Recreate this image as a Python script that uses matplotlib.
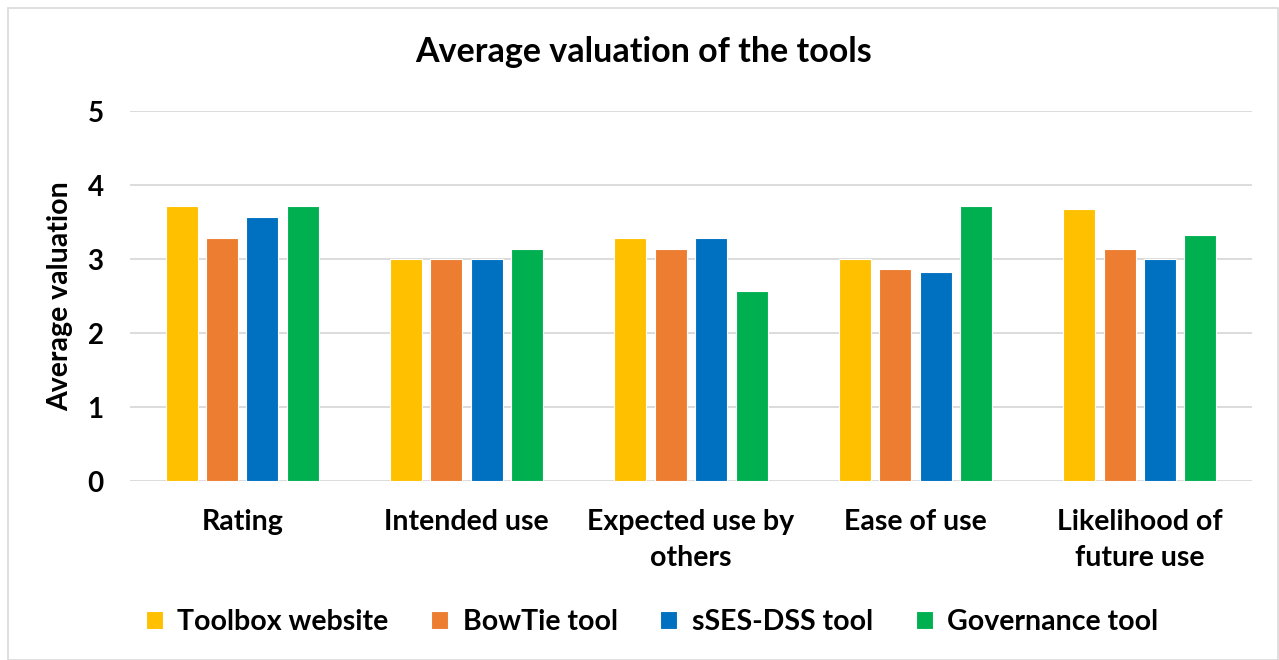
import matplotlib
matplotlib.use("Agg")
import matplotlib.pyplot as plt
import numpy as np
from matplotlib.patches import Rectangle

categories = ["Rating", "Intended use", "Expected use by\nothers", "Ease of use", "Likelihood of\nfuture use"]
series_names = ["Toolbox website", "BowTie tool", "sSES-DSS tool", "Governance tool"]
toolbox = [3.71, 3.00, 3.29, 3.00, 3.67]
bowtie = [3.29, 3.00, 3.14, 2.86, 3.14]
sses = [3.57, 3.00, 3.29, 2.83, 3.00]
governance = [3.71, 3.14, 2.57, 3.71, 3.33]
colors = ["#FFC000", "#ED7D31", "#0070C0", "#00B050"]
yticks = [0, 1, 2, 3, 4, 5]

plt.rcParams['font.family'] = ['Lato', 'DejaVu Sans']

fig = plt.figure(figsize=(12.79, 6.60), dpi=100)
fig.patches.append(Rectangle((8/1279, 0), 1 - 8/1279 - 1/1279, 1 - 8/660, transform=fig.transFigure,
                             fill=False, edgecolor="#D9D9D9", linewidth=1.2))
ax = fig.add_axes([130/1279, 1 - 481/660, (1252-130)/1279, (481-111)/660])

x = np.arange(len(categories))
w = 0.143
step = 0.18
data = [toolbox, bowtie, sses, governance]
for i, (vals, name, c) in enumerate(zip(data, series_names, colors)):
    ax.bar(x + (i - 1.5) * step, vals, width=w, color=c, edgecolor="white", linewidth=0.8, label=name, zorder=3)

ax.set_xlim(-0.5, len(categories) - 0.5)
ax.set_ylim(0, 5)
ax.set_yticks(yticks)
ax.set_yticklabels([str(t) for t in yticks], fontsize=20, fontweight="bold")
ax.set_xticks(x)
ax.set_xticklabels(categories, fontsize=20.5, fontweight="bold", linespacing=1.5)
ax.tick_params(axis="y", length=0, pad=19)
ax.tick_params(axis="x", length=0, pad=20)
ax.grid(axis="y", color="#D9D9D9", linewidth=1.3, zorder=0)
for s in ax.spines.values():
    s.set_visible(False)
ax.set_ylabel("Average valuation", fontsize=20.5, fontweight="bold", labelpad=10)

fig.text(644/1279, 1 - 52/660, "Average valuation of the tools", ha="center", va="center",
         fontsize=24.5, fontweight="bold")

fig.legend(loc="center", bbox_to_anchor=(652/1279, 1 - 622/660), ncol=4, frameon=False,
           prop={"size": 20.5, "weight": "bold"}, handlelength=0.6, handleheight=0.6,
           columnspacing=1.5, handletextpad=0.5)

fig.savefig("out.png", dpi=100)
